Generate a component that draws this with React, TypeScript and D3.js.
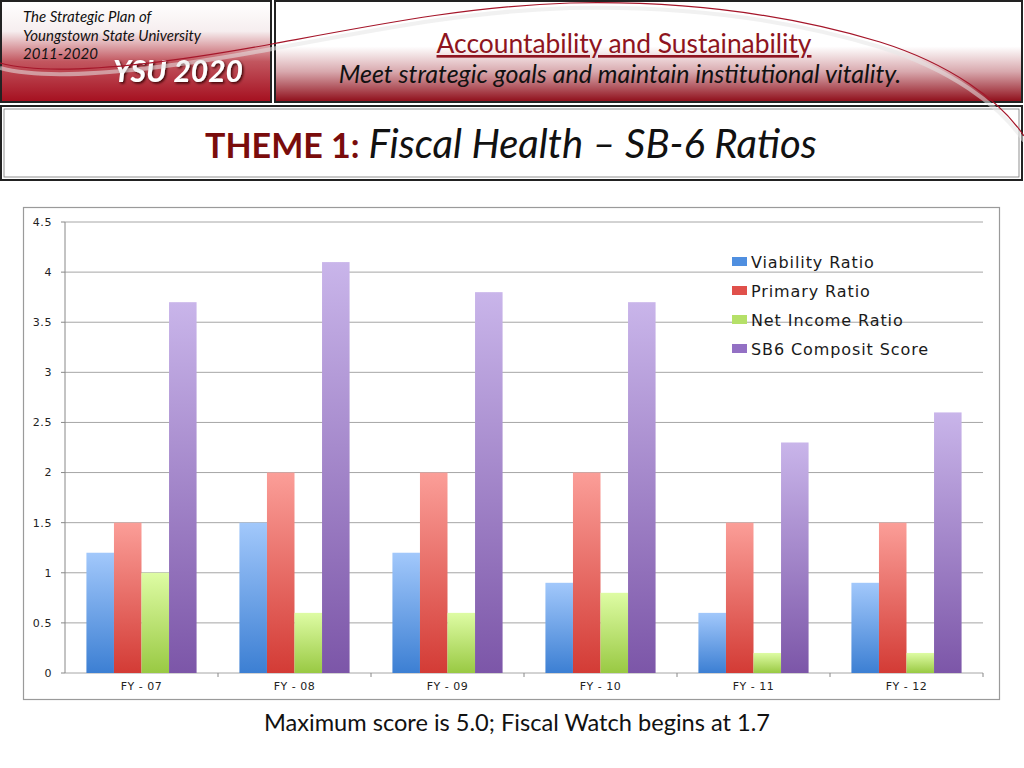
import React from "react";
import * as d3 from "d3";

const years = ["FY - 07", "FY - 08", "FY - 09", "FY - 10", "FY - 11", "FY - 12"];
const seriesNames = ["Viability Ratio", "Primary Ratio", "Net Income Ratio", "SB6 Composit Score"];
const viability = [1.2, 1.5, 1.2, 0.9, 0.6, 0.9];
const primary = [1.5, 2, 2, 2, 1.5, 1.5];
const netIncome = [1.0, 0.6, 0.6, 0.8, 0.2, 0.2];
const composite = [3.7, 4.1, 3.8, 3.7, 2.3, 2.6];
const yTicks = [0, 0.5, 1, 1.5, 2, 2.5, 3, 3.5, 4, 4.5];

// light top / dark bottom for each series
const barColors = [
  ["#a2c8fb", "#3c7fd3"],
  ["#fb9e98", "#d33b35"],
  ["#defca4", "#99c943"],
  ["#c9b5ea", "#7c56a8"],
];
const legendColors = ["#4f8fe0", "#e0504b", "#b5e068", "#9370c4"];

const W = 1024;
const H = 768;
const plot = { left: 65, right: 983, top: 222, bottom: 673 };

const swoosh = "M0,63 C40,74 120,72 272,44 C380,24 470,6 570,3 C700,0 800,18 880,42 C950,64 1000,100 1024,136";

const App: React.FC = () => {
  const values = [viability, primary, netIncome, composite];

  const y = d3.scaleLinear().domain([0, 4.5]).range([plot.bottom, plot.top]);
  const x0 = d3
    .scaleBand<string>()
    .domain(years)
    .range([plot.left, plot.right])
    .paddingInner(0.28)
    .paddingOuter(0.14);
  const x1 = d3
    .scaleBand<string>()
    .domain(seriesNames)
    .range([0, x0.bandwidth()])
    .padding(0);
  const step = x0.step();

  const legendY = d3.scalePoint<string>().domain(seriesNames).range([262, 349]);

  const sans = "Lato, 'Open Sans', sans-serif";
  const chartFont = "'DejaVu Sans', Verdana, sans-serif";

  return (
    <div style={{ position: "absolute", left: 0, top: 0 }}>
      <svg width={W} height={H} style={{ display: "block", background: "#fff" }}>
        <defs>
          <linearGradient id="hdrLeft" x1="0" y1="0" x2="0" y2="1">
            <stop offset="0" stopColor="#ffffff" />
            <stop offset="0.3" stopColor="#f6eeef" />
            <stop offset="0.6" stopColor="#c2565f" />
            <stop offset="1" stopColor="#a50f1f" />
          </linearGradient>
          <linearGradient id="hdrRight" x1="0" y1="0" x2="0" y2="1">
            <stop offset="0" stopColor="#ffffff" />
            <stop offset="0.45" stopColor="#ffffff" />
            <stop offset="0.7" stopColor="#d8a8ad" />
            <stop offset="1" stopColor="#8e0c18" />
          </linearGradient>
          {barColors.map((c, i) => (
            <linearGradient key={i} id={`bar${i}`} x1="0" y1="0" x2="0" y2="1">
              <stop offset="0" stopColor={c[0]} />
              <stop offset="1" stopColor={c[1]} />
            </linearGradient>
          ))}
          <filter id="ysuShadow" x="-10%" y="-30%" width="130%" height="160%">
            <feDropShadow dx="1.5" dy="1.5" stdDeviation="1" floodColor="#300" floodOpacity="0.9" />
          </filter>
        </defs>

        {/* header boxes */}
        <rect x={1} y={1} width={270} height={101} fill="url(#hdrLeft)" stroke="#222" strokeWidth={2} />
        <rect x={275} y={1} width={747} height={101} fill="url(#hdrRight)" stroke="#222" strokeWidth={2} />

        <g fontFamily={sans} fontStyle="italic" fontSize={15} fill="#111">
          <text x={23} y={22}>The Strategic Plan of</text>
          <text x={23} y={41}>Youngstown State University</text>
          <text x={23} y={59}>2011-2020</text>
        </g>
        <text
          x={243}
          y={82}
          textAnchor="end"
          fontFamily={sans}
          fontStyle="italic"
          fontWeight={700}
          fontSize={30}
          fill="#fff"
          filter="url(#ysuShadow)"
        >
          YSU 2020
        </text>

        <text
          x={624}
          y={53}
          textAnchor="middle"
          fontFamily={sans}
          fontSize={26.4}
          fill="#8e1420"
          textDecoration="underline"
        >
          Accountability and Sustainability
        </text>
        <text x={620} y={83} textAnchor="middle" fontFamily={sans} fontStyle="italic" fontSize={25} fill="#111">
          Meet strategic goals and maintain institutional vitality.
        </text>

        {/* theme box */}
        <rect x={1} y={106} width={1021} height={74} fill="#fff" stroke="#222" strokeWidth={2} />
        <rect x={4} y={109} width={1015} height={68} fill="none" stroke="#777" strokeWidth={0.8} />
        <text x={205} y={158} fontFamily={sans}>
          <tspan fontWeight={700} fontSize={34} fill="#7a0c0c">
            THEME 1:
          </tspan>
          <tspan dx={9} fontStyle="italic" fontSize={40} fill="#111">
            Fiscal Health – SB-6 Ratios
          </tspan>
        </text>

        {/* decorative swoosh, over the header boxes */}
        <path d={swoosh} fill="none" stroke="#e6e6e6" strokeWidth={4} opacity={0.55} transform="translate(0,5)" />
        <path d={swoosh} fill="none" stroke="#a5162a" strokeWidth={1.2} />

        {/* chart frame */}
        <rect x={23.5} y={207.5} width={976} height={492} fill="#fff" stroke="#9a9a9a" strokeWidth={1.2} />

        {/* grid lines */}
        {yTicks.map((t) => (
          <g key={t}>
            <line x1={plot.left} x2={plot.right} y1={y(t)} y2={y(t)} stroke="#a6a6a6" strokeWidth={1} />
            <line x1={plot.left - 4} x2={plot.left} y1={y(t)} y2={y(t)} stroke="#888" />
            <text
              x={plot.left - 13}
              y={y(t)}
              dy="0.35em"
              textAnchor="end"
              fontFamily={chartFont}
              fontSize={11}
              letterSpacing={0.6}
              fill="#222"
            >
              {t}
            </text>
          </g>
        ))}
        <line x1={plot.left} x2={plot.left} y1={plot.top} y2={plot.bottom} stroke="#888" />

        {/* category separator ticks */}
        {years.map((yr, i) => (
          <line
            key={yr}
            x1={plot.left + step * (i + 1)}
            x2={plot.left + step * (i + 1)}
            y1={plot.bottom}
            y2={plot.bottom + 4}
            stroke="#888"
          />
        ))}

        {/* bars */}
        {years.map((yr, i) => (
          <g key={yr} transform={`translate(${x0(yr)},0)`}>
            {seriesNames.map((s, j) => (
              <rect
                key={s}
                x={x1(s)}
                y={y(values[j][i])}
                width={x1.bandwidth()}
                height={plot.bottom - y(values[j][i])}
                fill={`url(#bar${j})`}
              />
            ))}
          </g>
        ))}

        {/* x labels */}
        {years.map((yr) => (
          <text
            key={yr}
            x={(x0(yr) as number) + x0.bandwidth() / 2}
            y={690}
            textAnchor="middle"
            fontFamily={chartFont}
            fontSize={11}
            letterSpacing={0.5}
            fill="#222"
          >
            {yr}
          </text>
        ))}

        {/* legend */}
        {seriesNames.map((s, j) => (
          <g key={s} transform={`translate(732,${legendY(s)})`}>
            <rect x={0} y={-5} width={15} height={9} fill={legendColors[j]} />
            <text
              x={19}
              y={0}
              dy="0.36em"
              fontFamily={chartFont}
              fontSize={16}
              letterSpacing={0.9}
              fill="#1a1a1a"
            >
              {s}
            </text>
          </g>
        ))}

        <text x={517} y={731} textAnchor="middle" fontFamily={sans} fontSize={23.6} fill="#111">
          Maximum score is 5.0; Fiscal Watch begins at 1.7
        </text>
      </svg>
    </div>
  );
};

export default App;
